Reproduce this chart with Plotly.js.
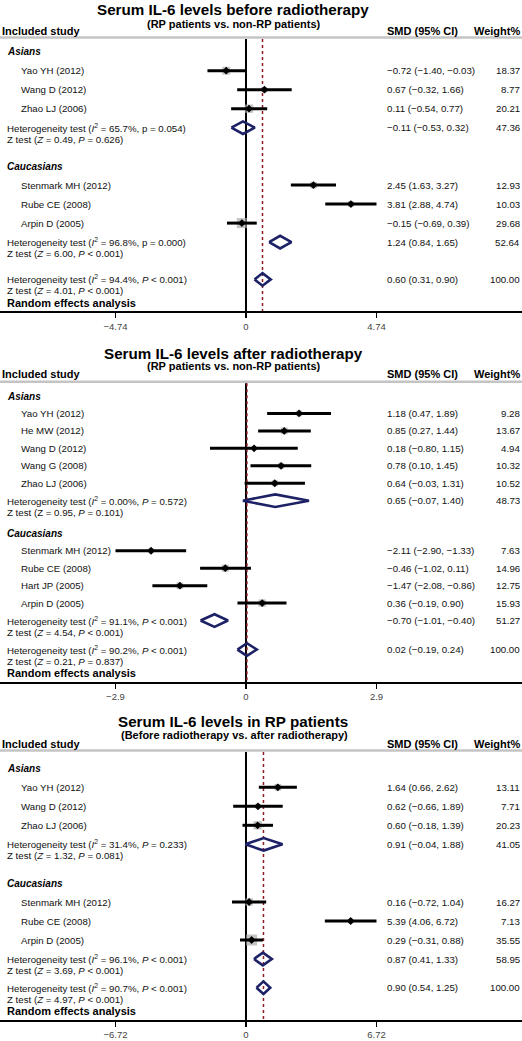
<!DOCTYPE html>
<html><head><meta charset="utf-8">
<script src="https://cdn.plot.ly/plotly-3.0.1.min.js"></script>
<style>html,body{margin:0;padding:0;background:#fff;}#chart{width:522px;height:1041px;}</style>
</head><body><div id="chart"></div>
<script>
// ---------- Panel 1: before radiotherapy ----------
const p1Title = 'Serum IL-6 levels before radiotherapy';
const p1Sub = '(RP patients vs. non-RP patients)';
const p1Tick = 4.74;
const p1Groups = ['Asians', 'Caucasians'];
const p1Study = ['Yao YH (2012)', 'Wang D (2012)', 'Zhao LJ (2006)', 'Stenmark MH (2012)', 'Rube CE (2008)', 'Arpin D (2005)'];
const p1Grp = [0, 0, 0, 1, 1, 1];
const p1Smd = [-0.72, 0.67, 0.11, 2.45, 3.81, -0.15];
const p1Lo = [-1.40, -0.32, -0.54, 1.63, 2.88, -0.69];
const p1Hi = [-0.03, 1.66, 0.77, 3.27, 4.74, 0.39];
const p1Wt = [18.37, 8.77, 20.21, 12.93, 10.03, 29.68];
// pooled: [Asians, Caucasians, Overall]
const p1PoolSmd = [-0.11, 1.24, 0.60];
const p1PoolLo = [-0.53, 0.84, 0.31];
const p1PoolHi = [0.32, 1.65, 0.90];
const p1PoolWt = [47.36, 52.64, 100.00];
const p1Het = ['(<i>I</i><sup>2</sup> = 65.7%, p = 0.054)', '(<i>I</i><sup>2</sup> = 96.8%, p = 0.000)', '(<i>I</i><sup>2</sup> = 94.4%, <i>P</i> &lt; 0.001)'];
const p1Z = ['(<i>Z</i> = 0.49, <i>P</i> = 0.626)', '(<i>Z</i> = 6.00, <i>P</i> &lt; 0.001)', '(<i>Z</i> = 4.01, <i>P</i> &lt; 0.001)'];

// ---------- Panel 2: after radiotherapy ----------
const p2Title = 'Serum IL-6 levels after radiotherapy';
const p2Sub = '(RP patients vs. non-RP patients)';
const p2Tick = 2.9;
const p2Groups = ['Asians', 'Caucasians'];
const p2Study = ['Yao YH (2012)', 'He MW (2012)', 'Wang D (2012)', 'Wang G (2008)', 'Zhao LJ (2006)', 'Stenmark MH (2012)', 'Rube CE (2008)', 'Hart JP (2005)', 'Arpin D (2005)'];
const p2Grp = [0, 0, 0, 0, 0, 1, 1, 1, 1];
const p2Smd = [1.18, 0.85, 0.18, 0.78, 0.64, -2.11, -0.46, -1.47, 0.36];
const p2Lo = [0.47, 0.27, -0.80, 0.10, -0.03, -2.90, -1.02, -2.08, -0.19];
const p2Hi = [1.89, 1.44, 1.15, 1.45, 1.31, -1.33, 0.11, -0.86, 0.90];
const p2Wt = [9.28, 13.67, 4.94, 10.32, 10.52, 7.63, 14.96, 12.75, 15.93];
const p2PoolSmd = [0.65, -0.70, 0.02];
const p2PoolLo = [-0.07, -1.01, -0.19];
const p2PoolHi = [1.40, -0.40, 0.24];
const p2PoolWt = [48.73, 51.27, 100.00];
const p2Het = ['(<i>I</i><sup>2</sup> = 0.00%, <i>P</i> = 0.572)', '(<i>I</i><sup>2</sup> = 91.1%, <i>P</i> &lt; 0.001)', '(<i>I</i><sup>2</sup> = 90.2%, <i>P</i> &lt; 0.001)'];
const p2Z = ['(Z = 0.95, <i>P</i> = 0.101)', '(<i>Z</i> = 4.54, <i>P</i> &lt; 0.001)', '(<i>Z</i> = 0.21, <i>P</i> = 0.837)'];

// ---------- Panel 3: in RP patients ----------
const p3Title = 'Serum IL-6 levels in RP patients';
const p3Sub = '(Before radiotherapy vs. after radiotherapy)';
const p3Tick = 6.72;
const p3Groups = ['Asians', 'Caucasians'];
const p3Study = ['Yao YH (2012)', 'Wang D (2012)', 'Zhao LJ (2006)', 'Stenmark MH (2012)', 'Rube CE (2008)', 'Arpin D (2005)'];
const p3Grp = [0, 0, 0, 1, 1, 1];
const p3Smd = [1.64, 0.62, 0.60, 0.16, 5.39, 0.29];
const p3Lo = [0.66, -0.66, -0.18, -0.72, 4.06, -0.31];
const p3Hi = [2.62, 1.89, 1.39, 1.04, 6.72, 0.88];
const p3Wt = [13.11, 7.71, 20.23, 16.27, 7.13, 35.55];
const p3PoolSmd = [0.91, 0.87, 0.90];
const p3PoolLo = [-0.04, 0.41, 0.54];
const p3PoolHi = [1.88, 1.33, 1.25];
const p3PoolWt = [41.05, 58.95, 100.00];
const p3Het = ['(<i>I</i><sup>2</sup> = 31.4%, <i>P</i> = 0.233)', '(<i>I</i><sup>2</sup> = 96.1%, <i>P</i> &lt; 0.001)', '(<i>I</i><sup>2</sup> = 90.7%, <i>P</i> &lt; 0.001)'];
const p3Z = ['(<i>Z</i> = 1.32, <i>P</i> = 0.081)', '(<i>Z</i> = 3.69, <i>P</i> &lt; 0.001)', '(<i>Z</i> = 4.97, <i>P</i> &lt; 0.001)'];

// ---------- layout / drawing ----------
const W = 522, H = 1041;
const FONT = '"Liberation Sans", Arial, sans-serif';
const NAVY = '#1d2165';

const panels = [
  {sfx: '', title: p1Title, sub: p1Sub, tick: p1Tick, groups: p1Groups, study: p1Study, grp: p1Grp, smd: p1Smd, lo: p1Lo, hi: p1Hi, wt: p1Wt,
   pSmd: p1PoolSmd, pLo: p1PoolLo, pHi: p1PoolHi, pWt: p1PoolWt, het: p1Het, z: p1Z,
   lay: {titleY: 9.5, subY: 24, headY: 31, lineY: 37.5, A: 51.7, step: 19, groupGap: 38.4, overallGap: 37.3}},
  {sfx: '2', title: p2Title, sub: p2Sub, tick: p2Tick, groups: p2Groups, study: p2Study, grp: p2Grp, smd: p2Smd, lo: p2Lo, hi: p2Hi, wt: p2Wt,
   pSmd: p2PoolSmd, pLo: p2PoolLo, pHi: p2PoolHi, pWt: p2PoolWt, het: p2Het, z: p2Z,
   lay: {titleY: 353.5, subY: 366, headY: 373.5, lineY: 381.7, A: 396, step: 17.45, groupGap: 32.6, overallGap: 29}},
  {sfx: '3', title: p3Title, sub: p3Sub, tick: p3Tick, groups: p3Groups, study: p3Study, grp: p3Grp, smd: p3Smd, lo: p3Lo, hi: p3Hi, wt: p3Wt,
   pSmd: p3PoolSmd, pLo: p3PoolLo, pHi: p3PoolHi, pWt: p3PoolWt, het: p3Het, z: p3Z,
   lay: {titleY: 721, subY: 734.5, headY: 744, lineY: 750.5, A: 768.3, step: 19, groupGap: 38.7, overallGap: 28.7}}
];

function fmt(v) { return v.toFixed(2).replace('-', '\u2212'); }
function ciText(m, l, h) { return fmt(m) + ' (' + fmt(l) + ', ' + fmt(h) + ')'; }

const traces = [], shapes = [], annotations = [];
const layout = {
  width: W, height: H, margin: {l: 0, r: 0, t: 0, b: 0},
  paper_bgcolor: '#fff', plot_bgcolor: 'rgba(0,0,0,0)', showlegend: false,
  font: {family: FONT, color: '#000'},
  yaxis: {domain: [0, 1], range: [H, 0], visible: false, fixedrange: true, showgrid: false, zeroline: false}
};

function ann(text, xpx, ypx, xanchor, font) {
  annotations.push({text: text, x: xpx / W, xref: 'paper', y: ypx, yref: 'y', xanchor: xanchor, yanchor: 'middle',
    showarrow: false, borderpad: 0, borderwidth: 0, font: Object.assign({family: FONT, size: 9.7, color: '#111'}, font || {})});
}

panels.forEach(p => {
  const L = p.lay, xa = 'x' + p.sfx;
  // row positions
  let y = L.A;
  const groupY = [], studyY = new Array(p.study.length), hetY = [];
  p.groups.forEach((g, gi) => {
    groupY.push(y); y += L.step;
    p.study.forEach((s, i) => { if (p.grp[i] === gi) { studyY[i] = y; y += L.step; } });
    hetY.push(y);
    y += L.groupGap;
  });
  const overallY = hetY[hetY.length - 1] + L.overallGap;
  hetY.push(overallY);
  const axisY = overallY + 33;

  // axis
  const T = p.tick;
  layout['xaxis' + p.sfx] = {
    domain: [0, 1], anchor: 'free', position: 1 - axisY / H,
    range: [-1.885 * T, 2.115 * T], tickvals: [-T, 0, T],
    showline: true, linecolor: '#000', linewidth: 2, ticks: 'outside', ticklen: 5, tickwidth: 1.5, tickcolor: '#000',
    tickfont: {family: FONT, size: 9.5, color: '#444'}, showgrid: false, zeroline: false, fixedrange: true
  };

  // header texts
  ann('<b>' + p.title + '</b>', 233, L.titleY, 'center', {size: 15.2, color: '#000'});
  ann('<b>' + p.sub + '</b>', 234, L.subY, 'center', {size: 11, color: '#000'});
  ann('<b>Included study</b>', 2, L.headY, 'left', {size: 11, color: '#000'});
  ann('<b>SMD (95% CI)</b>', 387, L.headY, 'left', {size: 11, color: '#000'});
  ann('<b>Weight%</b>', 520, L.headY, 'right', {size: 11, color: '#000'});
  shapes.push({type: 'line', xref: 'paper', yref: 'y', x0: 0, x1: 1, y0: L.lineY, y1: L.lineY, line: {color: '#c4c4c4', width: 2.5}, layer: 'below'});

  // reference lines
  shapes.push({type: 'line', xref: xa, yref: 'y', x0: 0, x1: 0, y0: L.lineY + 1.5, y1: axisY, line: {color: '#000', width: 2}, layer: 'below'});
  const ov = p.pSmd[p.pSmd.length - 1];
  shapes.push({type: 'line', xref: xa, yref: 'y', x0: ov, x1: ov, y0: L.lineY + 1.5, y1: axisY, line: {color: '#8e1b22', width: 1.5, dash: '3px,3px'}, layer: 'below'});

  // group labels and text columns
  p.groups.forEach((g, gi) => ann('<b><i>' + g + '</i></b>', 7, groupY[gi], 'left', {size: 10, color: '#000'}));
  p.study.forEach((s, i) => {
    ann(s, 21, studyY[i], 'left');
    ann(ciText(p.smd[i], p.lo[i], p.hi[i]), 387, studyY[i], 'left');
    ann(p.wt[i].toFixed(2), 520, studyY[i], 'right');
  });
  hetY.forEach((hy, k) => {
    ann('Heterogeneity test ' + p.het[k], 6.5, hy, 'left');
    ann('Z test ' + p.z[k], 6.5, hy + 11.5, 'left');
    ann(ciText(p.pSmd[k], p.pLo[k], p.pHi[k]), 387, hy, 'left');
    ann(p.pWt[k].toFixed(2), 520, hy, 'right');
  });
  ann('<b>Random effects analysis</b>', 7, overallY + 23.3, 'left', {size: 11, color: '#000'});

  // study marks
  traces.push({type: 'scatter', mode: 'markers', xaxis: xa, yaxis: 'y', x: p.smd, y: studyY,
    marker: {symbol: 'square', color: '#ababab', size: p.wt.map(w => 1.85 * Math.sqrt(w)), line: {width: 0}}, hoverinfo: 'skip'});
  const cx = [], cy = [];
  p.smd.forEach((m, i) => { cx.push(p.lo[i], p.hi[i], null); cy.push(studyY[i], studyY[i], null); });
  traces.push({type: 'scatter', mode: 'lines', xaxis: xa, yaxis: 'y', x: cx, y: cy, line: {color: '#000', width: 3}, hoverinfo: 'skip'});
  traces.push({type: 'scatter', mode: 'markers', xaxis: xa, yaxis: 'y', x: p.smd, y: studyY,
    marker: {symbol: 'diamond', color: '#000', size: 6, line: {width: 0}}, hoverinfo: 'skip'});

  // pooled diamonds
  const dx = [], dy = [], hh = 6.3;
  p.pSmd.forEach((m, k) => {
    const yy = hetY[k];
    dx.push(p.pLo[k], m, p.pHi[k], m, p.pLo[k], null);
    dy.push(yy, yy - hh, yy, yy + hh, yy, null);
  });
  traces.push({type: 'scatter', mode: 'lines', xaxis: xa, yaxis: 'y', x: dx, y: dy,
    line: {color: NAVY, width: 2.6}, hoverinfo: 'skip'});
});

layout.shapes = shapes;
layout.annotations = annotations;
Plotly.newPlot('chart', traces, layout, {staticPlot: true, displayModeBar: false});
</script>
</body></html>
